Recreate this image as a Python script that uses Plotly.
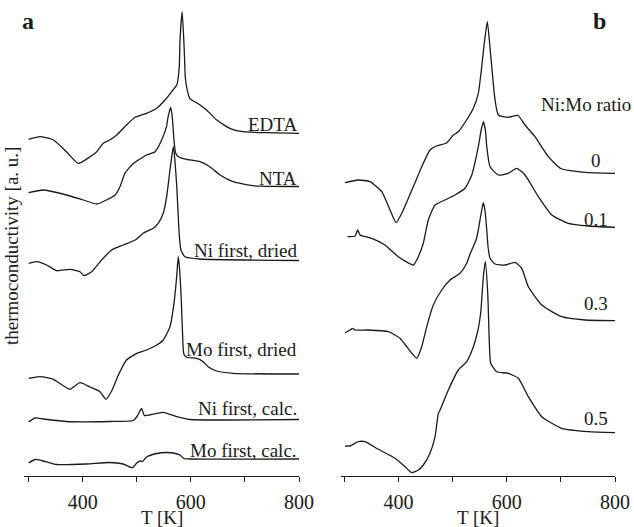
import plotly.graph_objects as go

# ---- panel a: thermoconductivity traces, T [K] vs signal (a.u., offset per sample)
edta_T = [300, 321, 346, 370, 392, 426, 438, 450, 463, 481, 497, 518, 537, 555, 567, 574,
          578.6, 580, 584, 587.8, 589.7, 592, 598, 617, 629, 648, 672, 697, 740, 800]
edta_v = [336.7, 339.3, 336, 324.3, 312.7, 324.3, 332.7, 336, 341, 351, 358.7, 362.7, 367.7,
          377.7, 386, 391, 409.3, 436, 464.3, 426, 399.3, 389.3, 377.7, 371, 366, 356, 347.7,
          344.3, 343.3, 342.7]

nta_T = [300, 327, 370, 401, 426, 444, 460, 469, 478, 494, 518, 534, 546, 555, 558, 562.7,
         565.6, 568.8, 572, 577, 592, 617, 635, 654, 678, 715, 800]
nta_v = [283.3, 286, 281, 276, 272, 276, 281, 289.3, 302.7, 312.7, 321, 324.3, 336, 349.3,
         359.3, 368.7, 359.3, 336, 322.7, 319.3, 316.7, 314.3, 309.3, 301, 294.3, 290.3, 289.5]

ni_dried_T = [300, 315, 333.5, 352, 376.5, 395, 402.4, 416.6, 435, 453.6, 475, 497, 512, 530.5,
              539.7, 549, 555.3, 561.4, 565.6, 567.8, 570.5, 574, 578.6, 581.7, 589, 617, 800]
ni_dried_v = [212.7, 214.3, 211, 205.3, 206.7, 204.3, 200.3, 204.3, 216, 226, 231, 236, 242.7,
              247.7, 252.7, 262.7, 279.3, 306, 322.7, 329.3, 316, 289.3, 241, 226, 219.3, 217,
              215.5]

mo_dried_T = [300, 321, 346, 362, 376.5, 395, 413.5, 432, 443, 453.6, 466, 481, 500, 518, 537,
              549, 561.4, 568.8, 573.8, 576.7, 579, 582, 584.5, 587, 592, 611, 623, 632, 648,
              678, 800]
mo_dried_v = [97.7, 99.3, 96.7, 91, 86.7, 93.3, 89, 84.3, 76.7, 85, 101, 116, 122.7, 126, 131,
              136, 149.3, 172.7, 199.3, 219.3, 208, 180, 145, 122, 118.7, 117.7, 114.3, 109.3,
              105, 102.7, 102]

ni_calc_T = [300, 312, 327, 370, 450, 493.5, 500.4, 509, 514, 524, 549, 574, 598, 672, 800]
ni_calc_v = [54, 58, 57, 54.5, 54.5, 55.5, 59.5, 67.5, 60.5, 61, 63.7, 59.3, 56.5, 56, 56.5]

mo_calc_T = [300, 312, 324, 352, 407, 450, 475, 492, 500, 506, 510.5, 518, 537, 555, 567.5,
             580, 587, 598, 800]
mo_calc_v = [13, 16.5, 15.5, 11.5, 12, 13.5, 12, 8.3, 13, 15, 14.5, 19, 22.5, 23.5, 23, 21,
             17.5, 17, 17]

labels_a = ["EDTA", "NTA", "Ni first, dried", "Mo first, dried", "Ni first, calc.",
            "Mo first, calc."]
label_a_v = [352, 298, 226, 127, 68, 26]

# ---- panel b: Ni:Mo ratio series
r0_T = [301.5, 326, 347.6, 369.3, 384.6, 395.7, 406.2, 427.6, 443.1, 458.4, 470, 489, 501.5,
        510.7, 526, 538.4, 547.6, 553.9, 559.1, 564.3, 568.9, 572.4, 578.5, 584.6, 603, 620.9,
        633.8, 652.3, 676.9, 700, 744.7, 800]
r0_v = [293.3, 296, 294.3, 284.3, 266, 253.3, 262.7, 289.3, 309.3, 326, 330, 333, 341, 344.3,
        356, 367.7, 382.7, 409.3, 435, 454.3, 430, 409.3, 376, 361, 358.7, 360.5, 351, 339.3,
        319.3, 307.5, 303.7, 302.7]

r01_T = [306, 319.9, 324.9, 329.2, 350.8, 375.3, 399.9, 427.6, 436.8, 446.1, 455.3, 467.7,
         486.1, 504.6, 523.1, 535.5, 547.6, 552.6, 556.9, 560.9, 563.2, 569.3, 584.6, 603,
         618.6, 633.9, 658.5, 683.2, 713.9, 750.8, 800]
r01_v = [239.3, 240, 246, 241, 237.7, 231, 219.3, 211, 219.3, 233, 256, 271, 276, 281, 287.7,
         301, 329.3, 345, 354.3, 345, 329.3, 309.3, 301, 302.7, 307.7, 301, 279.3, 261, 252.7,
         250, 248.7]

r03_T = [301.5, 310.7, 315, 320, 344.5, 381.4, 403, 415.4, 433.9, 443.1, 452.4, 464.5, 480,
         495.4, 513.9, 526.2, 532.3, 543.4, 547.6, 552.6, 556.9, 560.1, 563.2, 565.6, 569.3,
         578.5, 597, 615.5, 627.8, 640, 664.7, 701.7, 744.7, 800]
r03_v = [143.3, 146, 147.7, 146, 146, 144.3, 137.7, 129.3, 117.7, 129.3, 149.3, 171, 186, 196,
         202.7, 212.7, 222, 236, 246, 262, 273.3, 265, 246, 229, 217.7, 212, 211, 213.7, 207.7,
         189.3, 171, 159.3, 156, 155.3]

r05_T = [301.5, 310.7, 326, 338.4, 363, 393.8, 412.3, 424.7, 436.8, 446.1, 458.4, 467.7, 473.8,
         477, 492.2, 510.7, 526.2, 538.4, 547, 552, 556.9, 560.6, 565, 568, 570.5, 581.6, 603,
         621.5, 640, 664.7, 701.7, 750.8, 800]
r05_v = [30, 30, 34.3, 34.3, 26.7, 17.7, 9.3, 3.3, 6, 11, 22.7, 39.3, 62.7, 66, 86, 106, 114.3,
         129.3, 146, 163, 199.3, 214.3, 182.7, 132.7, 112.7, 104.3, 102.7, 97.7, 79.3, 59.3,
         47.7, 44.3, 43.3]

labels_b = ["0", "0.1", "0.3", "0.5"]
label_b_v = [316, 257, 173, 58]

FONT = "Liberation Serif"
INK = "#1a1a1a"

fig = go.Figure()

series_a = [(edta_T, edta_v), (nta_T, nta_v), (ni_dried_T, ni_dried_v),
            (mo_dried_T, mo_dried_v), (ni_calc_T, ni_calc_v), (mo_calc_T, mo_calc_v)]
series_b = [(r0_T, r0_v), (r01_T, r01_v), (r03_T, r03_v), (r05_T, r05_v)]

for t, v in series_a:
    fig.add_trace(go.Scatter(x=t, y=v, mode="lines", xaxis="x", yaxis="y",
                             line=dict(color=INK, width=1.3, shape="spline", smoothing=0.5),
                             showlegend=False, hoverinfo="skip"))
for t, v in series_b:
    fig.add_trace(go.Scatter(x=t, y=v, mode="lines", xaxis="x2", yaxis="y2",
                             line=dict(color=INK, width=1.3, shape="spline", smoothing=0.5),
                             showlegend=False, hoverinfo="skip"))

W, H = 634, 527
TOP_V = 476  # plot height in pixels == y range

tick_vals = [300, 400, 500, 600, 700, 800]
tick_text = ["", "400", "", "600", "", "800"]

xaxis_common = dict(
    tickvals=tick_vals, ticktext=tick_text, ticks="outside", ticklen=5, tickwidth=1.2,
    tickcolor=INK, showline=True, linecolor=INK, linewidth=1.3, showgrid=False,
    zeroline=False, tickfont=dict(family=FONT, size=20, color=INK), ticklabelstandoff=3,
    automargin=False, fixedrange=True,
)
yaxis_common = dict(range=[0, TOP_V], visible=False, fixedrange=True, automargin=False)

fig.update_layout(
    width=W, height=H, autosize=False,
    margin=dict(l=0, r=0, t=0, b=51, pad=0),
    paper_bgcolor="white", plot_bgcolor="white",
    xaxis=dict(domain=[24 / W, 299 / W], range=[291.5, 800], anchor="y", **xaxis_common),
    xaxis2=dict(domain=[340.7 / W, 615 / W], range=[293.5, 800], anchor="y2", **xaxis_common),
    yaxis=dict(domain=[0, 1], anchor="x", **yaxis_common),
    yaxis2=dict(domain=[0, 1], anchor="x2", **yaxis_common),
)

ann = []
for txt, v in zip(labels_a, label_a_v):
    ann.append(dict(text=txt, x=800, y=v, xref="x", yref="y", xanchor="right",
                    yanchor="middle", showarrow=False,
                    font=dict(family=FONT, size=19, color=INK)))
for txt, v in zip(labels_b, label_b_v):
    ann.append(dict(text=txt, x=765, y=v, xref="x2", yref="y2", xanchor="center",
                    yanchor="middle", showarrow=False,
                    font=dict(family=FONT, size=19, color=INK)))
# x-axis titles, one under each panel
for xc in (161.5 / W, 478 / W):
    ann.append(dict(text="T [K]", x=xc, y=-41 / TOP_V, xref="paper", yref="paper",
                    xanchor="center", yanchor="middle", showarrow=False,
                    font=dict(family=FONT, size=19, color=INK)))
ann.append(dict(text="Ni:Mo ratio", x=633 / W, y=372, xref="paper", yref="y2",
                xanchor="right", yanchor="middle", showarrow=False,
                font=dict(family=FONT, size=19, color=INK)))
ann.append(dict(text="thermoconductivity [a. u.]", x=12 / W, y=(TOP_V - 246) / TOP_V,
                xref="paper", yref="paper", xanchor="center", yanchor="middle",
                textangle=-90, showarrow=False,
                font=dict(family=FONT, size=19, color=INK)))
ann.append(dict(text="<b>a</b>", x=27.5 / W, y=(TOP_V - 21.5) / TOP_V, xref="paper",
                yref="paper", xanchor="center", yanchor="middle", showarrow=False,
                font=dict(family=FONT, size=24, color=INK)))
ann.append(dict(text="<b>b</b>", x=599 / W, y=(TOP_V - 21) / TOP_V, xref="paper",
                yref="paper", xanchor="center", yanchor="middle", showarrow=False,
                font=dict(family=FONT, size=24, color=INK)))
fig.update_layout(annotations=ann)

fig.write_html("out.html", config={"responsive": False, "displayModeBar": False})
